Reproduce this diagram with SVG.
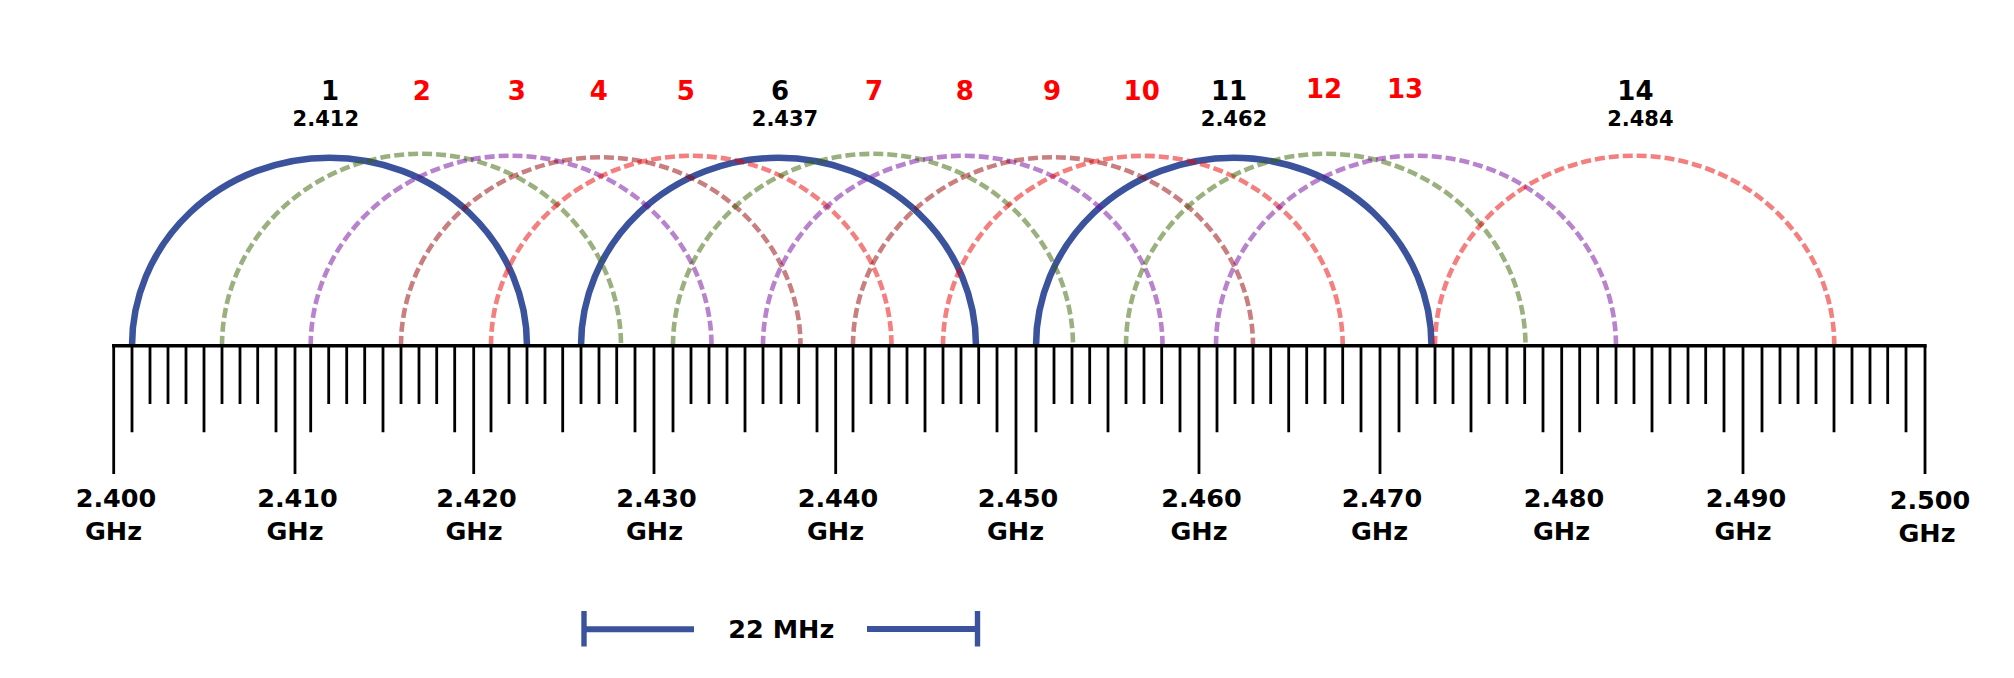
<svg xmlns="http://www.w3.org/2000/svg" width="2014" height="678" viewBox="0 0 2014 678">
<style>
.bg{fill:#ffffff}
.arc{fill:none}
.solid{stroke:#3a539c;stroke-width:6.5}
.dash{stroke-width:4.6;stroke-dasharray:10 4;stroke-opacity:0.5}
.g{stroke:#376100}
.p{stroke:#710799}
.b{stroke:#930000}
.s{stroke:#e90000}
.tk{stroke:#000;stroke-width:2.8;fill:none}
.axis{stroke:#000;stroke-width:3.5;fill:none}
.num{font-family:"DejaVu Sans",sans-serif;font-weight:bold;font-size:26px;text-anchor:middle}
.frq{font-family:"DejaVu Sans",sans-serif;font-weight:bold;font-size:21px;text-anchor:middle;fill:#000}
.ax{font-family:"DejaVu Sans",sans-serif;font-weight:bold;font-size:25.5px;text-anchor:middle;fill:#000}
.red{fill:#ff0000}
.blk{fill:#000000}
.br{stroke:#3a539c;fill:none}
</style>
<rect class="bg" x="0" y="0" width="2014" height="678"/>

<g id="channels">
<g id="ch1"><path class="arc solid" d="M132,345.7 A197.5,188 0 0 1 527,345.7"/></g>
<g id="ch6"><path class="arc solid" d="M581,345.7 A197.5,188 0 0 1 976,345.7"/></g>
<g id="ch11"><path class="arc solid" d="M1036,345.7 A197.75,188 0 0 1 1431.5,345.7"/></g>
<g id="ch2"><path class="arc dash g" d="M222,345.7 A199.5,192 0 0 1 621,345.7"/></g>
<g id="ch3"><path class="arc dash p" d="M310.7,345.7 A200.4,190 0 0 1 711.5,345.7"/></g>
<g id="ch4"><path class="arc dash b" d="M401,345.7 A199.75,188.5 0 0 1 800.5,345.7"/></g>
<g id="ch5"><path class="arc dash s" d="M491,345.7 A200.25,190 0 0 1 891.5,345.7"/></g>
<g id="ch7"><path class="arc dash g" d="M673,345.7 A200,192 0 0 1 1073,345.7"/></g>
<g id="ch8"><path class="arc dash p" d="M763,345.7 A199.75,190 0 0 1 1162.5,345.7"/></g>
<g id="ch9"><path class="arc dash b" d="M853,345.7 A200,188.5 0 0 1 1253,345.7"/></g>
<g id="ch10"><path class="arc dash s" d="M943,345.7 A199.85,190 0 0 1 1342.7,345.7"/></g>
<g id="ch12"><path class="arc dash g" d="M1126,345.7 A199.75,192 0 0 1 1525.5,345.7"/></g>
<g id="ch13"><path class="arc dash p" d="M1216,345.7 A200,190 0 0 1 1616,345.7"/></g>
<g id="ch14"><path class="arc dash s" d="M1435,345.7 A199.65,190 0 0 1 1834.3,345.7"/></g>
</g>

<g id="axis">
<path class="tk" d="M113.7,345.7V474 M295,345.7V474 M473.7,345.7V474 M654,345.7V474 M835.7,345.7V474 M1016,345.7V474 M1199,345.7V474 M1380,345.7V474 M1561.7,345.7V474 M1743,345.7V474 M1925,345.7V474"/>
<path class="tk" d="M132,345.7V432.3 M204,345.7V432.3 M276,345.7V432.3 M310.7,345.7V432.3 M383,345.7V432.3 M454.7,345.7V432.3 M491,345.7V432.3 M562.7,345.7V432.3 M635,345.7V432.3 M673,345.7V432.3 M745,345.7V432.3 M817,345.7V432.3 M853,345.7V432.3 M925,345.7V432.3 M997,345.7V432.3 M1036,345.7V432.3 M1108,345.7V432.3 M1180,345.7V432.3 M1217,345.7V432.3 M1288.7,345.7V432.3 M1361,345.7V432.3 M1399,345.7V432.3 M1471,345.7V432.3 M1543,345.7V432.3 M1579.7,345.7V432.3 M1652,345.7V432.3 M1724,345.7V432.3 M1762,345.7V432.3 M1834,345.7V432.3 M1906,345.7V432.3"/>
<path class="tk" d="M150,345.7V404 M168,345.7V404 M186,345.7V404 M222,345.7V404 M240,345.7V404 M257.7,345.7V404 M328.7,345.7V404 M346.7,345.7V404 M364.7,345.7V404 M401,345.7V404 M419,345.7V404 M436.7,345.7V404 M509,345.7V404 M527,345.7V404 M545,345.7V404 M581,345.7V404 M599,345.7V404 M616.7,345.7V404 M691,345.7V404 M709,345.7V404 M727,345.7V404 M763,345.7V404 M781,345.7V404 M798.7,345.7V404 M871,345.7V404 M889,345.7V404 M907,345.7V404 M943,345.7V404 M961,345.7V404 M978.7,345.7V404 M1054,345.7V404 M1072,345.7V404 M1089.7,345.7V404 M1126,345.7V404 M1144,345.7V404 M1161.7,345.7V404 M1235,345.7V404 M1253,345.7V404 M1270.7,345.7V404 M1306.7,345.7V404 M1325,345.7V404 M1342.7,345.7V404 M1417,345.7V404 M1435,345.7V404 M1453,345.7V404 M1489,345.7V404 M1507,345.7V404 M1524.7,345.7V404 M1597.7,345.7V404 M1616,345.7V404 M1634,345.7V404 M1670,345.7V404 M1688,345.7V404 M1705.7,345.7V404 M1780,345.7V404 M1798,345.7V404 M1816,345.7V404 M1852,345.7V404 M1870,345.7V404 M1887.7,345.7V404"/>
<path class="axis" d="M112,345.7H1926.7"/>
</g>

<g id="channel-labels">
<text class="num blk" x="330" y="99.5">1</text>
<text class="num red" x="421.8" y="99.5">2</text>
<text class="num red" x="516.7" y="99.5">3</text>
<text class="num red" x="598.7" y="99.5">4</text>
<text class="num red" x="685.8" y="99.5">5</text>
<text class="num blk" x="780" y="99.5">6</text>
<text class="num red" x="874" y="99.5">7</text>
<text class="num red" x="964.7" y="99.5">8</text>
<text class="num red" x="1052" y="99.5">9</text>
<text class="num red" x="1141.7" y="99.5">10</text>
<text class="num blk" x="1229" y="99.5">11</text>
<text class="num red" x="1324" y="98.3">12</text>
<text class="num red" x="1405" y="98.3">13</text>
<text class="num blk" x="1635.4" y="99.5">14</text>
<text class="frq" x="325.8" y="126">2.412</text>
<text class="frq" x="785" y="126">2.437</text>
<text class="frq" x="1234" y="126">2.462</text>
<text class="frq" x="1640.4" y="126">2.484</text>
</g>

<g id="axis-labels">
<text class="ax" x="116" y="507">2.400</text><text class="ax" x="113.5" y="540">GHz</text>
<text class="ax" x="297.5" y="507">2.410</text><text class="ax" x="295" y="540">GHz</text>
<text class="ax" x="476.5" y="507">2.420</text><text class="ax" x="474" y="540">GHz</text>
<text class="ax" x="656.5" y="507">2.430</text><text class="ax" x="654.5" y="540">GHz</text>
<text class="ax" x="838" y="507">2.440</text><text class="ax" x="835.5" y="540">GHz</text>
<text class="ax" x="1018" y="507">2.450</text><text class="ax" x="1015.5" y="540">GHz</text>
<text class="ax" x="1201.5" y="507">2.460</text><text class="ax" x="1199" y="540">GHz</text>
<text class="ax" x="1382" y="507">2.470</text><text class="ax" x="1379.5" y="540">GHz</text>
<text class="ax" x="1564" y="507">2.480</text><text class="ax" x="1561.5" y="540">GHz</text>
<text class="ax" x="1746" y="507">2.490</text><text class="ax" x="1743" y="540">GHz</text>
<text class="ax" x="1930" y="508.5">2.500</text><text class="ax" x="1927" y="542">GHz</text>
</g>

<g id="bracket">
<path class="br" stroke-width="5.4" d="M584,611V646.5 M977.5,611V646.5"/>
<path class="br" stroke-width="6" d="M586,629.3H694 M867,629H976"/>
<text class="ax" x="781.3" y="637.5" font-size="26">22 MHz</text>
</g>
</svg>
